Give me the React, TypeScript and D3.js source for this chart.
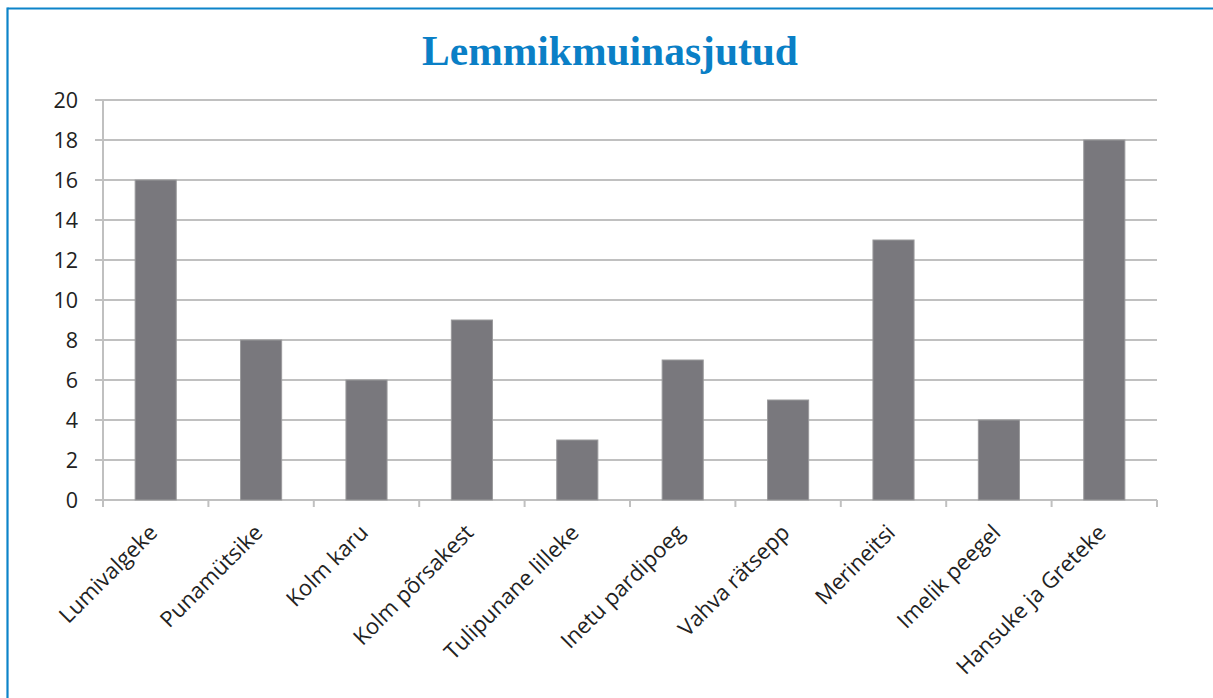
import React from "react";
import * as d3 from "d3";

const categories = [
  "Lumivalgeke",
  "Punamütsike",
  "Kolm karu",
  "Kolm põrsakest",
  "Tulipunane lilleke",
  "Inetu pardipoeg",
  "Vahva rätsepp",
  "Merineitsi",
  "Imelik peegel",
  "Hansuke ja Greteke",
];
const values = [16, 8, 6, 9, 3, 7, 5, 13, 4, 18];
const yTicks = [0, 2, 4, 6, 8, 10, 12, 14, 16, 18, 20];
const title = "Lemmikmuinasjutud";

export default function App() {
  const W = 1213;
  const H = 698;
  const left = 103;
  const right = 1157;
  const top = 100;
  const bottom = 500;
  const x = d3.scaleBand<string>().domain(categories).range([left, right]).paddingInner(0.61).paddingOuter(0.305);
  const xb = d3.scaleBand<string>().domain(categories).range([left, right]);
  const y = d3.scaleLinear().domain([0, 20]).range([bottom, top]);
  const font = "'Open Sans', 'Noto Sans', sans-serif";
  const grid = "#c0c0c0";
  return (
    <svg width={W} height={H} style={{ position: "absolute", left: 0, top: 0, background: "#fff" }}>
      <line x1={7.5} y1={8.5} x2={W} y2={8.5} stroke="#0c84c9" strokeWidth={2.2} />
      <line x1={7.5} y1={7.5} x2={7.5} y2={H} stroke="#0c84c9" strokeWidth={2.2} />
      <text x={610} y={65} textAnchor="middle" fill="#0a7fc6" fontFamily="'Liberation Serif', 'DejaVu Serif', serif" fontWeight="bold" fontSize={41.5}>
        {title}
      </text>
      {yTicks.map((t) => (
        <g key={t}>
          <line x1={95} x2={right} y1={y(t)} y2={y(t)} stroke={grid} strokeWidth={2} />
          <text x={78} y={y(t)} dy="0.36em" textAnchor="end" fontFamily={font} fontSize={21.5} fill="#222">
            {t}
          </text>
        </g>
      ))}
      <line x1={left} x2={left} y1={top} y2={bottom + 7} stroke={grid} strokeWidth={2} />
      {categories.map((c) => (
        <line key={"t" + c} x1={(xb(c) as number) + xb.bandwidth()} x2={(xb(c) as number) + xb.bandwidth()} y1={bottom} y2={bottom + 7} stroke={grid} strokeWidth={2} />
      ))}
      {categories.map((c, i) => (
        <rect
          key={c}
          x={x(c)}
          y={y(values[i])}
          width={x.bandwidth()}
          height={bottom - y(values[i])}
          fill="#79787d"
          stroke="#9a9a9c"
          strokeWidth={1}
        />
      ))}
      {categories.map((c) => {
        const cx = (xb(c) as number) + xb.bandwidth() / 2 + 3;
        return (
          <text
            key={"l" + c}
            transform={`translate(${cx},${534}) rotate(-45)`}
            textAnchor="end"
            fontFamily={font}
            fontSize={22}
            fill="#222"
          >
            {c}
          </text>
        );
      })}
    </svg>
  );
}
